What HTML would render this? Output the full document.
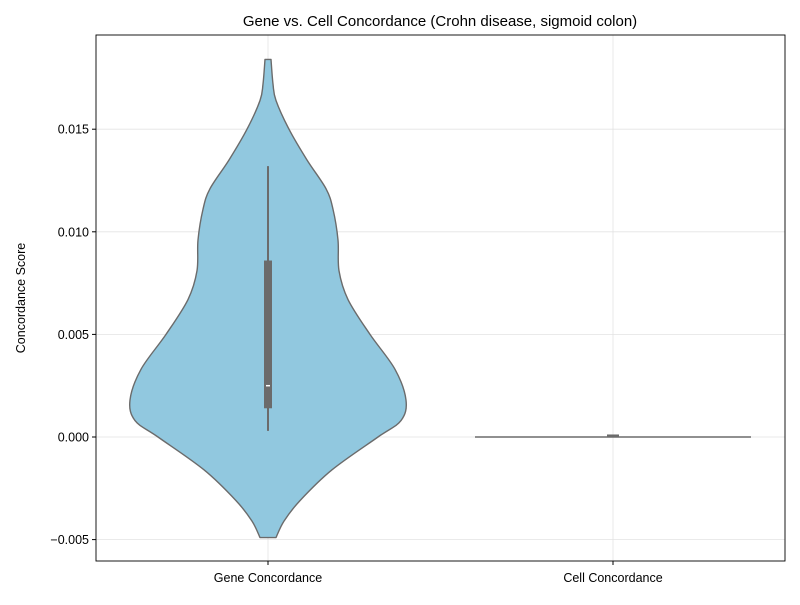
<!DOCTYPE html>
<html><head><meta charset="utf-8"><style>
body{margin:0;background:#fff;font-family:"Liberation Sans","DejaVu Sans",sans-serif}
svg text{font-family:"Liberation Sans","DejaVu Sans",sans-serif}
</style></head><body>
<svg id="c" width="800" height="600">
<rect width="800" height="600" fill="#fff"/>
</svg>
<script>
const categories=["Gene Concordance","Cell Concordance"];
const yTicks=[-0.005,0,0.005,0.010,0.015];
const yTickLabels=["\u22120.005","0.000","0.005","0.010","0.015"];
const geneVals=[0.0184,0.0172,0.0164,0.015,0.0135,0.0121,0.0111,0.0096,0.0081,0.0067,0.005,0.0033,0.0018,0.0008,0,-0.0016,-0.0031,-0.0041,-0.0049];
const geneWidth=[3,5,8,21,39,58,65,70,71,80,102,127,138,133,110,64,32,16,8];
const geneBox=[0.0003,0.0014,0.0025,0.0086,0.0132];
const cellVals=[0,0];
const cellWidth=[138,138];
const cellBox=[0,0,0,0.00005,0.00005];

const NS="http://www.w3.org/2000/svg";
const svg=document.getElementById('c');
const L=96,R=785,T=35,B=561;
const y=v=>437-v/0.005*102.6;
const xc=i=>268+i*345;
function mk(t,a,p){const e=document.createElementNS(NS,t);for(const k in a)e.setAttribute(k,a[k]);(p||svg).appendChild(e);return e;}
function spline(pts){
  let d='M'+pts[0][0]+','+pts[0][1];
  for(let i=0;i<pts.length-1;i++){
    const p0=pts[Math.max(0,i-1)],p1=pts[i],p2=pts[i+1],p3=pts[Math.min(pts.length-1,i+2)];
    const c1=[p1[0]+(p2[0]-p0[0])/6,p1[1]+(p2[1]-p0[1])/6];
    const c2=[p2[0]-(p3[0]-p1[0])/6,p2[1]-(p3[1]-p1[1])/6];
    d+=' C'+c1[0]+','+c1[1]+' '+c2[0]+','+c2[1]+' '+p2[0]+','+p2[1];
  }
  return d;
}
yTicks.forEach((v,i)=>{const g=mk('line',{x1:L,x2:R,y1:y(v),y2:y(v),stroke:'#e3e3e3','stroke-width':0.8});

});
categories.forEach((c,i)=>{const g=mk('line',{x1:xc(i),x2:xc(i),y1:T,y2:B,stroke:'#e3e3e3','stroke-width':0.8});

});
function violin(vals,w,i,name){
  const r=vals.map((v,k)=>[xc(i)+w[k],y(v)]);
  const l=vals.map((v,k)=>[xc(i)-w[k],y(v)]).reverse();
  const d=spline(r)+' L'+l[0][0]+','+l[0][1]+' '+spline(l).slice(1).replace(/^[^C]*/,'')+' Z';
  const p=mk('path',{d:d,fill:'#91c8df',stroke:'#6b6b6b','stroke-width':1.4,'stroke-linejoin':'round'});
  
  
}
function box(b,i,name){
  const w=mk('line',{x1:xc(i),x2:xc(i),y1:y(b[0]),y2:y(b[4]),stroke:'#6b6b6b','stroke-width':2});
  
  
  const r=mk('rect',{x:xc(i)-4,width:8,y:y(b[3]),height:Math.max(1,y(b[1])-y(b[3])),fill:'#6b6b6b'});
  
  
  const m=mk('line',{x1:xc(i)-2,x2:xc(i)+2,y1:y(b[2]),y2:y(b[2]),stroke:'#fff','stroke-width':1.5});
  
  
}
violin(geneVals,geneWidth,0,'gene-violin');box(geneBox,0,'gene');
const cl=mk('line',{x1:xc(1)-cellWidth[0],x2:xc(1)+cellWidth[0],y1:y(cellVals[0]),y2:y(cellVals[0]),stroke:'#6b6b6b','stroke-width':1.6});


const cb=mk('rect',{x:xc(1)-6,width:12,y:y(cellBox[3])-1.5,height:2,fill:'#6b6b6b'});


const fr=mk('rect',{x:L,y:T,width:R-L,height:B-T,fill:'none',stroke:'#000','stroke-width':0.9});


yTicks.forEach((v,i)=>{
  const t=mk('line',{x1:L-4,x2:L,y1:y(v),y2:y(v),stroke:'#000'});
  
  
  const tx=mk('text',{x:L-7,y:y(v)+4.5,'text-anchor':'end','font-size':12.5});
  tx.textContent=yTickLabels[i];
  
  
});
categories.forEach((c,i)=>{
  const t=mk('line',{x1:xc(i),x2:xc(i),y1:B,y2:B+4,stroke:'#000'});
  
  
  const tx=mk('text',{x:xc(i),y:B+21,'text-anchor':'middle','font-size':12.5});
  tx.textContent=c;
  
  
});
const yt=mk('text',{x:0,y:0,'text-anchor':'middle','font-size':12.5,transform:'translate(25,298) rotate(-90)'});
yt.textContent='Concordance Score';


const ti=mk('text',{x:440,y:26,'text-anchor':'middle','font-size':15});
ti.textContent='Gene vs. Cell Concordance (Crohn disease, sigmoid colon)';


</script>
</body></html>
